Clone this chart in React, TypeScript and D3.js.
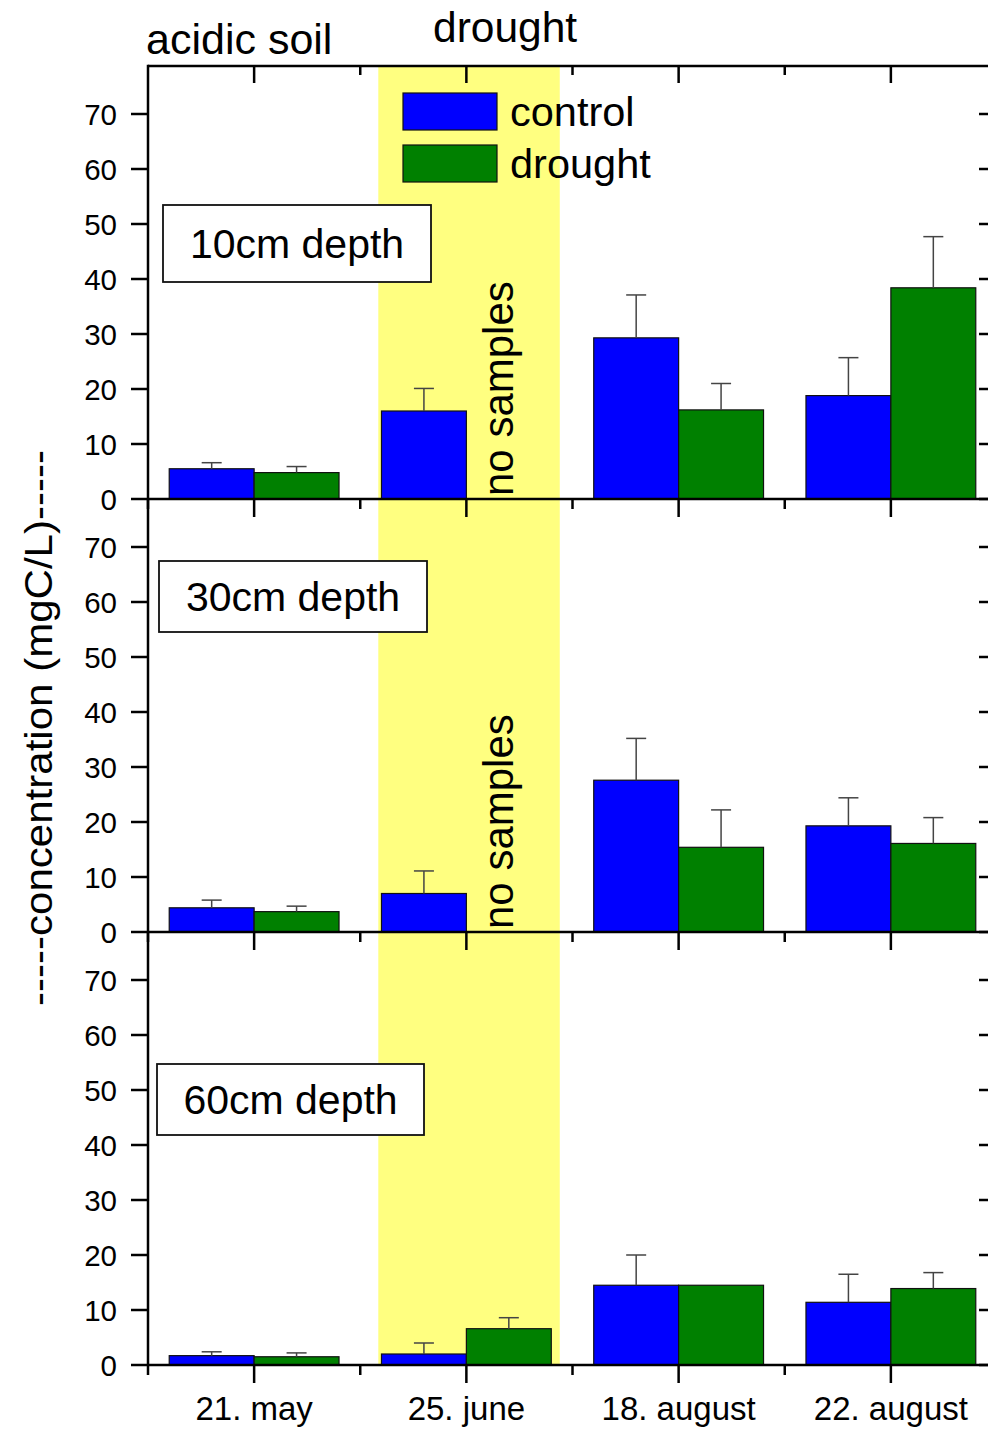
import { useRef, useEffect } from "react"
import * as d3 from "d3"

// ---- data ----
const categories = ["21. may", "25. june", "18. august", "22. august"]
const depths = ["10cm depth", "30cm depth", "60cm depth"]
const seriesNames = ["control", "drought"]

// 10cm depth
const control10 = [5.5, 16.0, 29.3, 18.8]
const controlErr10 = [1.1, 4.1, 7.8, 6.9]
const drought10 = [4.8, null, 16.2, 38.4]
const droughtErr10 = [1.1, null, 4.8, 9.3]

// 30cm depth
const control30 = [4.4, 7.0, 27.6, 19.3]
const controlErr30 = [1.4, 4.1, 7.6, 5.1]
const drought30 = [3.7, null, 15.4, 16.1]
const droughtErr30 = [1.0, null, 6.8, 4.7]

// 60cm depth
const control60 = [1.7, 2.0, 14.5, 11.4]
const controlErr60 = [0.7, 2.0, 5.5, 5.1]
const drought60 = [1.5, 6.6, 14.5, 13.9]
const droughtErr60 = [0.7, 2.0, 0, 2.9]

const yTicks = [0, 10, 20, 30, 40, 50, 60, 70]
const droughtPeriod = [1.585, 2.44] // in category units

const panels = [
  { label: depths[0], control: control10, controlErr: controlErr10, drought: drought10, droughtErr: droughtErr10, noSamples: true },
  { label: depths[1], control: control30, controlErr: controlErr30, drought: drought30, droughtErr: droughtErr30, noSamples: true },
  { label: depths[2], control: control60, controlErr: controlErr60, drought: drought60, droughtErr: droughtErr60, noSamples: false },
]

const FONT = "'Liberation Sans', Arial, sans-serif"
const BLUE = "#0000ff"
const GREEN = "#008000"

const App = () => {
  const svgRef = useRef<SVGSVGElement>(null)

  useEffect(() => {
    const svg = d3.select(svgRef.current)
    svg.selectAll("*").remove()

    const W = 988
    const H = 1429
    const left = 148
    const right = 997
    const top = 66
    const panelH = 433
    const yMax = panelH / 5.5

    svg.attr("width", W).attr("height", H)
    svg.append("rect").attr("width", W).attr("height", H).attr("fill", "white")

    const x = d3.scaleLinear().domain([0.5, 4.5]).range([left, right])
    const barW = x(0.4) - x(0)
    const bottom = top + panelH * 3

    // drought period band
    svg
      .append("rect")
      .attr("x", x(droughtPeriod[0]))
      .attr("y", top)
      .attr("width", x(droughtPeriod[1]) - x(droughtPeriod[0]))
      .attr("height", bottom - top)
      .attr("fill", "#ffff80")

    panels.forEach((p, pi) => {
      const zero = top + panelH * (pi + 1)
      const y = d3.scaleLinear().domain([0, yMax]).range([zero, zero - panelH])
      const g = svg.append("g")

      const series = [
        { vals: p.control, errs: p.controlErr, color: BLUE, off: -0.4 },
        { vals: p.drought, errs: p.droughtErr, color: GREEN, off: 0 },
      ]

      series.forEach((s) => {
        s.vals.forEach((v, i) => {
          if (v == null) return
          const x0 = x(i + 1 + s.off)
          g.append("rect")
            .attr("x", x0)
            .attr("y", y(v))
            .attr("width", barW)
            .attr("height", zero - y(v))
            .attr("fill", s.color)
            .attr("stroke", "#111")
            .attr("stroke-width", 1.2)
          const e = s.errs[i]
          if (e) {
            const cx = x0 + barW / 2
            g.append("line")
              .attr("x1", cx).attr("x2", cx)
              .attr("y1", y(v)).attr("y2", y(v + e))
              .attr("stroke", "#444").attr("stroke-width", 1.5)
            g.append("line")
              .attr("x1", cx - 10).attr("x2", cx + 10)
              .attr("y1", y(v + e)).attr("y2", y(v + e))
              .attr("stroke", "#444").attr("stroke-width", 1.5)
          }
        })
      })

      // zero line (bottom axis of panel)
      g.append("line")
        .attr("x1", left).attr("x2", right)
        .attr("y1", zero).attr("y2", zero)
        .attr("stroke", "black").attr("stroke-width", 2.5)

      // bottom ticks: major at categories, minor at boundaries
      categories.forEach((c, i) => {
        g.append("line")
          .attr("x1", x(i + 1)).attr("x2", x(i + 1))
          .attr("y1", zero).attr("y2", zero + 18)
          .attr("stroke", "black").attr("stroke-width", 2.5)
      })
      d3.range(0.5, 4.6, 1).forEach((b) => {
        g.append("line")
          .attr("x1", x(b)).attr("x2", x(b))
          .attr("y1", zero).attr("y2", zero + 10)
          .attr("stroke", "black").attr("stroke-width", 2.5)
      })

      // y ticks left (outward) and right (inward)
      yTicks.forEach((t) => {
        g.append("line")
          .attr("x1", left - 17).attr("x2", left)
          .attr("y1", y(t)).attr("y2", y(t))
          .attr("stroke", "black").attr("stroke-width", 2.5)
        g.append("line")
          .attr("x1", right - 18).attr("x2", right)
          .attr("y1", y(t)).attr("y2", y(t))
          .attr("stroke", "black").attr("stroke-width", 2.5)
        g.append("text")
          .attr("x", 117)
          .attr("y", y(t) + 10.5)
          .attr("text-anchor", "end")
          .style("font-family", FONT)
          .style("font-size", "29.5px")
          .text(t)
      })

      // "no samples"
      if (p.noSamples) {
        g.append("text")
          .attr("transform", `translate(513,${zero - 3}) rotate(-90)`)
          .attr("text-anchor", "start")
          .style("font-family", FONT)
          .style("font-size", "42px")
          .text("no samples")
      }
    })

    // depth label boxes
    const boxes = [
      { x: 163, y: 205, w: 268, h: 77 },
      { x: 159, y: 561, w: 268, h: 71 },
      { x: 157, y: 1064, w: 267, h: 71 },
    ]
    boxes.forEach((b, i) => {
      svg.append("rect")
        .attr("x", b.x).attr("y", b.y).attr("width", b.w).attr("height", b.h)
        .attr("fill", "white").attr("stroke", "#111").attr("stroke-width", 1.8)
      svg.append("text")
        .attr("x", b.x + b.w / 2)
        .attr("y", b.y + b.h / 2 + 14.7)
        .attr("text-anchor", "middle")
        .style("font-family", FONT)
        .style("font-size", "41px")
        .text(depths[i])
    })

    // frame: left axis and top axis
    svg.append("line")
      .attr("x1", left).attr("x2", left).attr("y1", top - 1.2).attr("y2", bottom)
      .attr("stroke", "black").attr("stroke-width", 2.5)
    svg.append("line")
      .attr("x1", left).attr("x2", right).attr("y1", top).attr("y2", top)
      .attr("stroke", "black").attr("stroke-width", 2.5)
    categories.forEach((c, i) => {
      svg.append("line")
        .attr("x1", x(i + 1)).attr("x2", x(i + 1))
        .attr("y1", top).attr("y2", top + 17)
        .attr("stroke", "black").attr("stroke-width", 2.5)
    })
    d3.range(1.5, 4.5, 1).forEach((b) => {
      svg.append("line")
        .attr("x1", x(b)).attr("x2", x(b))
        .attr("y1", top).attr("y2", top + 9)
        .attr("stroke", "black").attr("stroke-width", 2.5)
    })

    // category labels
    categories.forEach((c, i) => {
      svg.append("text")
        .attr("x", x(i + 1))
        .attr("y", 1420)
        .attr("text-anchor", "middle")
        .style("font-family", FONT)
        .style("font-size", "33px")
        .text(c)
    })

    // legend
    const legendColors = [BLUE, GREEN]
    seriesNames.forEach((n, i) => {
      const ly = 93 + i * 52
      svg.append("rect")
        .attr("x", 403).attr("y", ly).attr("width", 94).attr("height", 37)
        .attr("fill", legendColors[i]).attr("stroke", "#111").attr("stroke-width", 1.2)
      svg.append("text")
        .attr("x", 510)
        .attr("y", ly + 33)
        .style("font-family", FONT)
        .style("font-size", "41.5px")
        .text(n)
    })

    // top labels
    svg.append("text")
      .attr("x", 146).attr("y", 54)
      .style("font-family", FONT).style("font-size", "43px")
      .text("acidic soil")
    svg.append("text")
      .attr("x", 433).attr("y", 42)
      .style("font-family", FONT).style("font-size", "42.5px")
      .text("drought")

    // y axis title
    svg.append("text")
      .attr("transform", `translate(52,728) rotate(-90)`)
      .attr("text-anchor", "middle")
      .attr("textLength", 556)
      .attr("lengthAdjust", "spacingAndGlyphs")
      .style("font-family", FONT)
      .style("font-size", "38px")
      .text("-----concentration (mgC/L)-----")
  }, [])

  return (
    <div style={{ position: "absolute", left: 0, top: 0 }}>
      <svg ref={svgRef}></svg>
    </div>
  )
}

export default App
